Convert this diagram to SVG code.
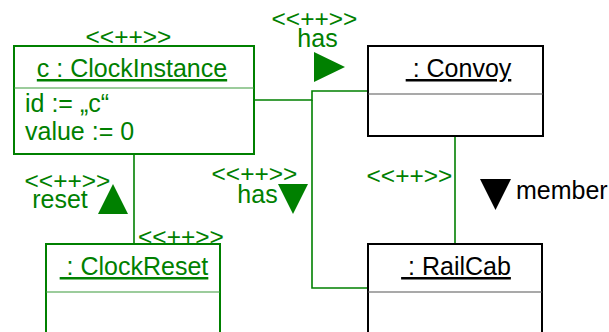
<svg xmlns="http://www.w3.org/2000/svg" width="609" height="332" viewBox="0 0 609 332">
<style>
text{font-family:"Liberation Sans",Arial,sans-serif;font-size:25px;white-space:pre}
.g{fill:#008000}
.k{fill:#000}
.st{font-size:24.5px;text-anchor:middle}
.t{text-decoration:underline;text-anchor:middle}
.boxg{fill:#fff;stroke:#008000;stroke-width:2}
.boxk{fill:#fff;stroke:#000;stroke-width:2}
.divg{stroke:#3a9a3a;stroke-width:1.2}
.divk{stroke:#555;stroke-width:1.2}
.con{fill:none;stroke:#008000;stroke-width:1.6}
</style>
<rect width="609" height="332" fill="#fff"/>
<g id="connectors">
<polyline class="con" points="254,100 312,100 312,91 368,91"/>
<polyline class="con" points="312,100 312,288 368,288"/>
<line class="con" x1="455" y1="136" x2="455" y2="244"/>
<line class="con" x1="134" y1="154" x2="134" y2="244"/>
<text class="g st" x="314.5" y="27">&lt;&lt;++&gt;&gt;</text>
<text class="g" x="317.5" y="47" text-anchor="middle">has</text>
<polygon class="g" points="314,52 345,67 314,82"/>
<text class="g st" x="409.5" y="184">&lt;&lt;++&gt;&gt;</text>
<polygon class="k" points="480,179 511,179 495.5,210"/>
<text class="k" x="516" y="199">member</text>
<text class="g st" x="254.5" y="182">&lt;&lt;++&gt;&gt;</text>
<text class="g" x="257.5" y="203" text-anchor="middle">has</text>
<polygon class="g" points="278,184 308,184 293,214"/>
<text class="g st" x="67.5" y="189">&lt;&lt;++&gt;&gt;</text>
<text class="g" x="60" y="208" text-anchor="middle">reset</text>
<polygon class="g" points="98,214 128,214 113,184"/>
<text class="g st" x="181" y="245">&lt;&lt;++&gt;&gt;</text>
</g>
<g id="clockInstance">
<text class="g st" x="128.5" y="45">&lt;&lt;++&gt;&gt;</text>
<rect class="boxg" x="14" y="46" width="240" height="108"/>
<line class="divg" x1="14" y1="88" x2="254" y2="88"/>
<text class="g t" x="132" y="77">c : ClockInstance</text>
<text class="g" x="25" y="112">id := „c“</text>
<text class="g" x="25" y="140">value := 0</text>
</g>
<g id="convoy">
<rect class="boxk" x="368" y="46" width="175" height="90"/>
<line class="divk" x1="368" y1="94" x2="543" y2="94"/>
<text class="k t" x="458.5" y="77"> : Convoy</text>
</g>
<g id="railCab">
<rect class="boxk" x="368" y="244" width="174" height="100"/>
<line class="divk" x1="368" y1="292" x2="542" y2="292"/>
<text class="k t" x="456" y="275"> : RailCab</text>
</g>
<g id="clockReset">
<rect class="boxg" x="46" y="244" width="174" height="100"/>
<line class="divg" x1="46" y1="292" x2="220" y2="292"/>
<text class="g t" x="134" y="275"> : ClockReset</text>
</g>
</svg>
